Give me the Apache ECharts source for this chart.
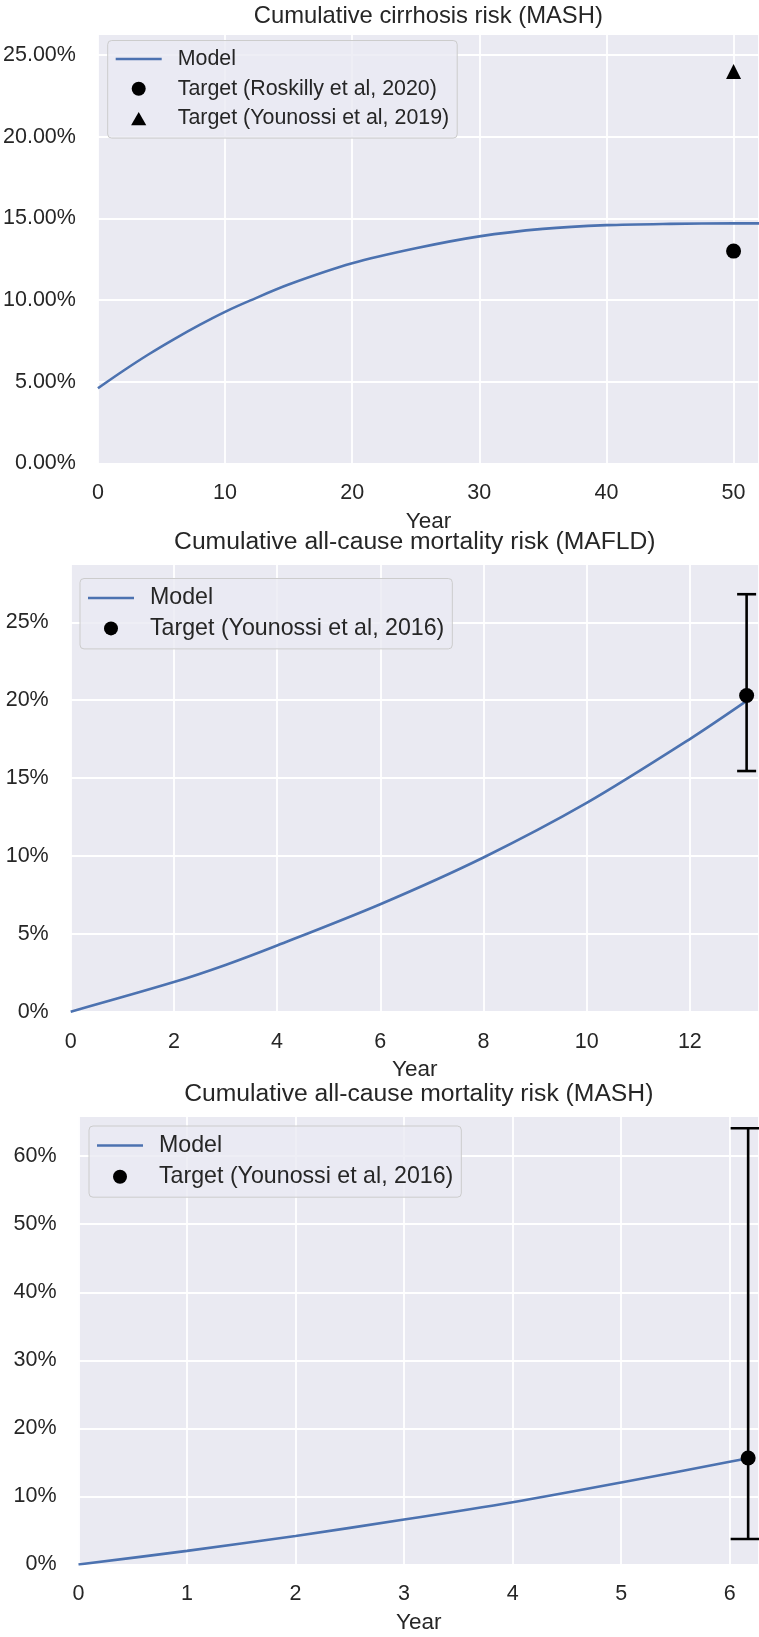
<!DOCTYPE html>
<html>
<head>
<meta charset="utf-8">
<script src="https://cdn.jsdelivr.net/npm/echarts@6/dist/echarts.min.js"></script>
<style>
html, body { margin: 0; padding: 0; background: #fff; }
#chart { width: 759px; height: 1637px; }
</style>
</head>
<body>
<div id="chart"></div>
<script>
// panel 1: cumulative cirrhosis risk (MASH), percent by year
const cirrhosisYears = [0, 2, 4, 6, 8, 10, 12, 15, 20, 25, 30, 35, 40, 45, 50, 52];
const cirrhosisModel = [4.6, 5.67, 6.68, 7.61, 8.48, 9.28, 9.98, 10.95, 12.25, 13.17, 13.9, 14.36, 14.59, 14.67, 14.7, 14.7];
const roskilly2020 = [50, 13.0];
const younossi2019 = [50, 24.0];

// panel 2: cumulative all-cause mortality risk (MAFLD)
const mafldYears = [0, 2, 3, 4, 6, 8, 10, 12, 13.1];
const mafldModel = [0, 1.9, 3.0, 4.25, 6.9, 9.9, 13.4, 17.5, 19.95];
const mafldTarget = [13.1, 20.3];    // year, value
const mafldRange = [15.45, 26.8];    // low, high

// panel 3: cumulative all-cause mortality risk (MASH)
const mashYears = [0, 1, 2, 3, 4, 5, 6, 6.17];
const mashModel = [0, 2.0, 4.2, 6.6, 9.15, 12.05, 15.1, 15.6];
const mashTarget = [6.17, 15.65];
const mashRange = [3.75, 64.1];

const zip = (xs, ys) => xs.map((x, i) => [x, ys[i]]);

const TXT = '#262626';
const FONT = '"Liberation Sans", Arial, sans-serif';
const BLUE = '#4C72B0';
// legend icons, drawn in a 46x14 box
const LINE_ICON = 'path://M0,0L0,0M46,14L46,14M0,5.7H46V8.3H0Z';
const TRI_ICON = 'path://M0,0L0,0M46,14L46,14M23,0.4L30.6,13.6L15.4,13.6Z';

const grids = [
    { left: 97.5, top: 34, width: 661.5, height: 429.3 },
    { left: 70.7, top: 564, width: 688.3, height: 447.7 },
    { left: 78.5, top: 1116, width: 680.5, height: 448.5 }
];

function xAxis(i, max, interval) {
    return {
        type: 'value', gridIndex: i, min: 0, max: max, interval: interval,
        name: 'Year', nameLocation: 'middle', nameGap: 47,
        nameTextStyle: { fontSize: 22.5, color: TXT, fontFamily: FONT },
        axisLine: { show: false }, axisTick: { show: false },
        splitLine: { lineStyle: { color: '#fff', width: 1.8 } },
        axisLabel: { fontSize: 21.5, color: TXT, fontFamily: FONT, margin: 19, showMaxLabel: false }
    };
}
function yAxis(i, max, interval, digits) {
    return {
        type: 'value', gridIndex: i, min: 0, max: max, interval: interval,
        axisLine: { show: false }, axisTick: { show: false },
        splitLine: { lineStyle: { color: '#fff', width: 1.8 } },
        axisLabel: {
            fontSize: 21.5, color: TXT, fontFamily: FONT, margin: 22, showMaxLabel: false,
            formatter: v => v.toFixed(digits) + '%'
        }
    };
}
function legend(left, top, size, gap, items) {
    return {
        left: left, top: top, orient: 'vertical', selectedMode: false,
        itemWidth: 46, itemHeight: 14, itemGap: gap,
        padding: [8, 8, 9, 8], symbolKeepAspect: true,
        backgroundColor: 'rgba(234,234,242,0.8)', borderColor: '#cccccc', borderWidth: 1, borderRadius: 4,
        textStyle: { fontSize: size, color: TXT, fontFamily: FONT, padding: [0, 0, 0, 11] },
        data: items
    };
}
const modelItem = { name: 'Model', icon: LINE_ICON, itemStyle: { color: BLUE, borderWidth: 0 } };
const dotItem = name => ({ name: name, icon: 'circle', itemStyle: { color: '#000', borderWidth: 0 } });

function errorBar(capHalf) {
    return function (params, api) {
        const x = api.value(0);
        const lo = api.coord([x, api.value(1)]);
        const hi = api.coord([x, api.value(2)]);
        const st = { stroke: '#000', lineWidth: 2.6 };
        return {
            type: 'group', children: [
                { type: 'line', shape: { x1: lo[0], y1: lo[1], x2: hi[0], y2: hi[1] }, style: st },
                { type: 'line', shape: { x1: lo[0] - capHalf, y1: lo[1], x2: lo[0] + capHalf, y2: lo[1] }, style: st },
                { type: 'line', shape: { x1: hi[0] - capHalf, y1: hi[1], x2: hi[0] + capHalf, y2: hi[1] }, style: st }
            ]
        };
    };
}
function modelLine(i, data) {
    return {
        name: 'Model', type: 'line', xAxisIndex: i, yAxisIndex: i, data: data,
        smooth: 0.3, symbol: 'none',
        lineStyle: { color: BLUE, width: 2.6 }, itemStyle: { color: BLUE }, z: 3
    };
}
function title(text, cx, top, size) {
    return {
        text: text, left: cx, top: top, textAlign: 'center', padding: 0,
        textStyle: { fontSize: size, fontWeight: 'normal', color: TXT, fontFamily: FONT }
    };
}

const chart = echarts.init(document.getElementById('chart'));
chart.setOption({
    animation: false,
    backgroundColor: '#fff',
    title: [
        title('Cumulative cirrhosis risk (MASH)', 428.3, 4, 23.8),
        title('Cumulative all-cause mortality risk (MAFLD)', 414.8, 530, 24.7),
        title('Cumulative all-cause mortality risk (MASH)', 418.8, 1082, 24.7)
    ],
    grid: grids.map(g => Object.assign({ show: true, backgroundColor: '#EAEAF2', borderWidth: 0 }, g)),
    xAxis: [xAxis(0, 52, 10), xAxis(1, 13.34, 2), xAxis(2, 6.27, 1)],
    yAxis: [yAxis(0, 26.3, 5, 2), yAxis(1, 28.74, 5, 0), yAxis(2, 65.9, 10, 0)],
    legend: [
        legend(107.7, 40.5, 21.4, 8.8, [modelItem, dotItem('Target (Roskilly et al, 2020)'),
            { name: 'Target (Younossi et al, 2019)', icon: TRI_ICON, itemStyle: { color: '#000', borderWidth: 0 } }]),
        legend(80, 578.5, 23.2, 7.4, [modelItem, dotItem('Target (Younossi et al, 2016)')]),
        legend(89, 1126, 23.2, 8.2, [modelItem, dotItem('Target (Younossi et al, 2016)')])
    ],
    series: [
        modelLine(0, zip(cirrhosisYears, cirrhosisModel)),
        {
            name: 'Target (Roskilly et al, 2020)', type: 'scatter', xAxisIndex: 0, yAxisIndex: 0,
            data: [roskilly2020], symbol: 'circle', symbolSize: 15, itemStyle: { color: '#000', opacity: 1 }, z: 4
        },
        {
            name: 'Target (Younossi et al, 2019)', type: 'scatter', xAxisIndex: 0, yAxisIndex: 0,
            data: [younossi2019], symbol: 'triangle', symbolSize: 15, itemStyle: { color: '#000', opacity: 1 }, z: 4
        },
        modelLine(1, zip(mafldYears, mafldModel)),
        {
            type: 'custom', xAxisIndex: 1, yAxisIndex: 1, renderItem: errorBar(9.5),
            data: [[mafldTarget[0], mafldRange[0], mafldRange[1]]], z: 4
        },
        {
            name: 'Target (Younossi et al, 2016)', type: 'scatter', xAxisIndex: 1, yAxisIndex: 1,
            data: [mafldTarget], symbol: 'circle', symbolSize: 15, itemStyle: { color: '#000', opacity: 1 }, z: 5
        },
        modelLine(2, zip(mashYears, mashModel)),
        {
            type: 'custom', xAxisIndex: 2, yAxisIndex: 2, renderItem: errorBar(17.5),
            data: [[mashTarget[0], mashRange[0], mashRange[1]]], z: 4
        },
        {
            name: 'Target (Younossi et al, 2016)', type: 'scatter', xAxisIndex: 2, yAxisIndex: 2,
            data: [mashTarget], symbol: 'circle', symbolSize: 15, itemStyle: { color: '#000', opacity: 1 }, z: 5
        }
    ]
});
</script>
</body>
</html>
